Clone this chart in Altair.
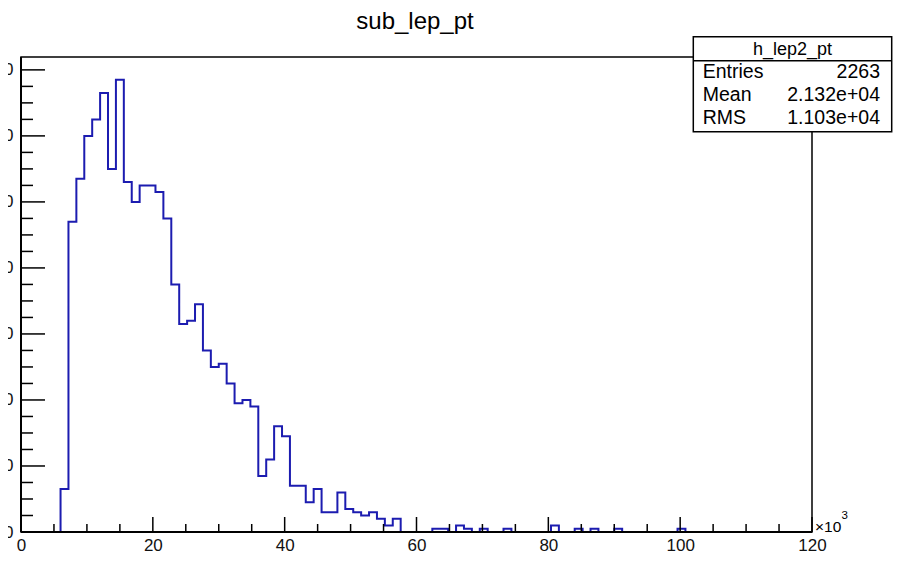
import altair as alt
import pandas as pd

# ---- data ----
hist_title = "sub_lep_pt"
hist_name = "h_lep2_pt"
x_min, x_max, n_bins = 0, 120, 100
counts = [0, 0, 0, 0, 0, 13, 94, 107, 120, 125,
          133, 110, 137, 106, 100, 105, 105, 103, 95, 75,
          63, 64, 69, 55, 50, 51, 45, 39, 40, 38,
          17, 22, 32, 29, 14, 14, 9, 13, 6, 6,
          12, 7, 6, 5, 6, 4, 2, 4, 0, 0,
          0, 0, 1, 1, 0, 2, 1, 0, 1, 0,
          0, 1, 0, 0, 0, 0, 0, 2, 0, 0,
          1, 0, 1, 0, 0, 1, 0, 0, 0, 0,
          0, 0, 0, 1, 0, 0, 0, 0, 0, 0,
          0, 0, 0, 0, 0, 0, 0, 0, 0, 0]
stats_labels = ["Entries", "Mean", "RMS"]
stats_values = ["2263", "2.132e+04", "1.103e+04"]
x_major = [0, 20, 40, 60, 80, 100, 120]
x_minor = [v for v in range(0, 121, 5) if v % 20 != 0]
y_major = [0, 20, 40, 60, 80, 100, 120, 140]
y_minor = [v for v in range(0, 141, 5) if v % 20 != 0]
y_max = 143.9

FONT = "Liberation Sans"
BLUE = "#1c1cb0"
W, H = 791, 475

bw = (x_max - x_min) / n_bins
hist_df = pd.DataFrame({
    "edge": [x_min + i * bw for i in range(n_bins + 1)],
    "count": counts + [0],
})

xs = alt.Scale(domain=[x_min, x_max], nice=False, zero=False)
ys = alt.Scale(domain=[0, y_max], nice=False, zero=True)

x_axis = alt.Axis(
    values=x_major, tickSize=0, domain=False, grid=False, title=None,
    labelFont=FONT, labelFontSize=17, labelColor="#111",
    labelPadding=18, labelBaseline="alphabetic",
    labelFlush=False, labelOverlap=False)
y_axis = alt.Axis(
    values=y_major, tickSize=0, domain=False, grid=False, title=None,
    labelFont=FONT, labelFontSize=17, labelColor="#111",
    labelPadding=8, labelAlign="right", labelBaseline="middle",
    labelFlush=False, labelOverlap=False)

hist = alt.Chart(hist_df).mark_line(
    interpolate="step-after", color=BLUE, strokeWidth=2
).encode(
    x=alt.X("edge:Q", scale=xs, axis=x_axis),
    y=alt.Y("count:Q", scale=ys, axis=y_axis),
)


def xticks(vals, length):
    return alt.Chart(pd.DataFrame({"v": vals})).mark_rule(
        color="black", strokeWidth=1.5
    ).encode(x=alt.X("v:Q", scale=xs, axis=x_axis),
             y=alt.value(H), y2=alt.value(H - length))


def yticks(vals, length):
    return alt.Chart(pd.DataFrame({"v": vals})).mark_rule(
        color="black", strokeWidth=1.5
    ).encode(y=alt.Y("v:Q", scale=ys, axis=y_axis),
             x=alt.value(0), x2=alt.value(length))


one = pd.DataFrame({"t": [""]})

bottom_line = alt.Chart(one).mark_rule(color="black", strokeWidth=2).encode(
    x=alt.value(0), x2=alt.value(W), y=alt.value(H))
left_line = alt.Chart(one).mark_rule(color="black", strokeWidth=2).encode(
    x=alt.value(0), y=alt.value(0), y2=alt.value(H))


def text(s, x, y, size, align="left", baseline="alphabetic"):
    return alt.Chart(pd.DataFrame({"t": [s]})).mark_text(
        font=FONT, fontSize=size, align=align, baseline=baseline, color="black"
    ).encode(text="t:N", x=alt.value(x), y=alt.value(y))


# stats box
bx0, bx1, by0, by1 = 672.3, 870.7, -20.3, 74.7
box = alt.Chart(one).mark_rect(fill="white", stroke="black", strokeWidth=1.5).encode(
    x=alt.value(bx0), x2=alt.value(bx1), y=alt.value(by0), y2=alt.value(by1))
sep = alt.Chart(one).mark_rule(color="black", strokeWidth=1.5).encode(
    x=alt.value(bx0), x2=alt.value(bx1), y=alt.value(3.7))

layers = [hist,
          xticks(x_major, 15), xticks(x_minor, 8),
          yticks(y_major, 24), yticks(y_minor, 12),
          bottom_line, left_line, box, sep,
          text(hist_name, (bx0 + bx1) / 2, -2, 18, align="center"),
          text(hist_title, W / 2 - 1.5, -28, 24, align="center"),
          text("\u00d710", 794, 475, 15.5),
          text("3", 820.5, 462, 11.5)]
row_y = [21.3, 44, 67]
for lab, val, yy in zip(stats_labels, stats_values, row_y):
    layers.append(text(lab, 681.7, yy, 19.5))
    layers.append(text(val, 859, yy, 19.5, align="right"))

chart = alt.layer(*layers).properties(
    width=W, height=H,
    autosize="none",
    padding={"left": 13, "top": 49, "right": 83, "bottom": 22},
    background="white",
).configure_view(stroke="black", strokeWidth=1.5)

chart.save("out.html", embed_options={"renderer": "svg", "actions": False})
